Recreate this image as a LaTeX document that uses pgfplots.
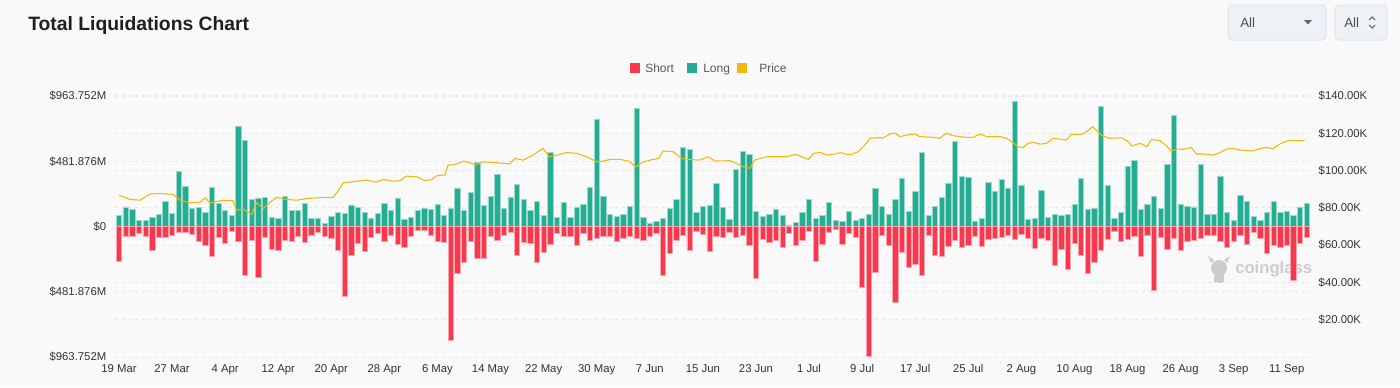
\documentclass[border=0pt]{standalone}
\usepackage{fontspec}
\setmainfont{Liberation Sans}
\usepackage{pgfplots}
\usepackage{pgfplotstable}
\pgfplotsset{compat=1.18}
\definecolor{bg}{HTML}{F9F9F9}
\definecolor{shortc}{HTML}{F6394E}
\definecolor{longc}{HTML}{24AD92}
\definecolor{pricec}{HTML}{F0B90B}
\definecolor{gridc}{HTML}{E6E6E6}
\definecolor{txt}{HTML}{333333}
\definecolor{ddfill}{HTML}{EEF2F6}
\definecolor{ddborder}{HTML}{DCE4EC}

\pgfplotstableread{
day long short
0 79 -258
1 144 -69
2 126 -74
3 47 -50
4 47 -72
5 67 -176
6 89 -77
7 183 -77
8 99 -64
9 404 -42
10 295 -42
11 134 -55
12 139 -112
13 104 -136
14 290 -218
15 171 -82
16 121 -124
17 79 -32
18 743 -109
19 634 -362
20 203 -99
21 211 -374
22 213 -79
23 69 -171
24 57 -178
25 223 -102
26 116 -109
27 121 -72
28 173 -119
29 60 -62
30 64 -45
31 22 -72
32 77 -84
33 102 -173
34 97 -518
35 159 -211
36 141 -126
37 102 -186
38 64 -82
39 94 -52
40 169 -107
41 116 -64
42 211 -131
43 55 -154
44 67 -69
45 119 -27
46 136 -27
47 124 -62
48 164 -112
49 84 -114
50 131 -837
51 285 -349
52 121 -268
53 253 -112
54 476 -235
55 154 -238
56 221 -72
57 382 -99
58 134 -62
59 218 -45
60 310 -216
61 201 -119
62 116 -126
63 188 -265
64 84 -188
65 548 -131
66 67 -52
67 176 -74
68 67 -74
69 144 -139
70 166 -52
71 290 -102
72 795 -84
73 223 -74
74 89 -74
75 74 -107
76 89 -89
77 146 -69
78 875 -89
79 69 -104
80 27 -69
81 40 -52
82 62 -357
83 136 -201
84 198 -99
85 582 -62
86 567 -173
87 107 -35
88 151 -57
89 156 -186
90 317 -69
91 141 -79
92 50 -40
93 421 -77
94 557 -67
95 535 -136
96 114 -382
97 72 -97
98 92 -114
99 126 -99
100 79 -154
101 12 -52
102 30 -139
103 102 -104
104 203 -37
105 60 -260
106 84 -129
107 176 -40
108 45 -22
109 37 -134
110 114 -47
111 45 -79
112 60 -451
113 92 -960
114 282 -337
115 146 -62
116 92 -136
117 203 -560
118 359 -188
119 109 -300
120 260 -278
121 545 -359
122 84 -62
123 149 -211
124 213 -218
125 322 -149
126 629 -104
127 369 -156
128 364 -136
129 42 -74
130 57 -144
131 325 -97
132 258 -89
133 349 -77
134 285 -64
135 922 -92
136 307 -57
137 50 -89
138 62 -164
139 265 -87
140 69 -99
141 89 -285
142 84 -166
143 89 -317
144 166 -126
145 357 -211
146 129 -344
147 136 -263
148 885 -176
149 302 -94
150 57 -37
151 104 -112
152 441 -94
153 486 -74
154 124 -218
155 161 -62
156 221 -468
157 136 -77
158 458 -169
159 820 -84
160 166 -178
161 151 -107
162 144 -102
163 458 -89
164 92 -62
165 92 -67
166 374 -107
167 107 -154
168 47 -112
169 228 -67
170 183 -129
171 72 -45
172 47 -89
173 107 -198
174 188 -136
175 107 -156
176 109 -136
177 84 -399
178 144 -126
179 171 -79
}\liq

\pgfplotstableread{
day price
0 86.8
1.65 84.5
3.2 84.1
4.67 87.4
6.18 87.7
8.19 87.2
9.2 84.1
10.7 82.7
12.2 82.9
13.0 85.4
13.7 82.7
15.7 84.1
17.2 83.8
17.7 78.8
18.7 79.3
20.0 76.6
20.7 82.7
21.8 79.7
22.8 83.2
23.8 85.6
25.3 84.5
26.8 84.1
28.3 85.0
30.8 85.6
32.3 85.6
33.1 89.5
33.8 93.5
35.3 94.0
37.3 94.9
38.8 93.8
39.8 95.2
41.3 94.3
42.3 94.5
43.3 97.0
44.9 96.7
46.1 94.5
47.1 95.2
47.9 97.2
49.1 97.6
49.6 102.9
50.9 103.5
51.9 105.1
53.2 103.8
53.7 102.9
54.9 104.7
56.9 104.2
58.9 103.5
59.7 106.5
60.9 105.6
62.4 108.3
63.9 111.9
64.9 107.4
66.5 108.7
67.5 109.7
69.0 109.2
70.5 107.4
72.0 104.7
73.0 105.1
74.0 106.0
75.5 106.0
76.8 105.1
77.9 102.0
79.0 104.7
80.5 106.0
81.3 106.5
82.0 110.5
83.5 110.1
84.8 106.5
86.0 106.0
87.5 105.6
88.8 107.4
89.8 105.1
92.1 105.3
93.1 103.8
94.1 102.0
95.1 101.2
95.8 105.6
96.6 106.5
97.6 107.4
100.6 107.4
101.9 108.7
102.9 107.4
103.9 106.0
104.7 109.2
105.7 109.7
106.7 108.3
107.7 108.7
108.7 109.6
109.7 108.7
110.4 108.7
111.4 110.1
112.4 113.7
113.2 117.3
114.2 117.6
115.2 117.6
116.4 120.0
117.0 120.0
117.7 118.2
118.7 119.1
120.0 119.6
120.7 118.2
122.7 117.8
123.7 117.3
124.7 120.0
125.7 118.7
127.7 117.8
128.7 117.8
129.8 119.6
130.8 118.2
132.8 118.2
133.8 117.3
134.8 114.9
135.5 112.8
136.3 112.4
137.0 114.6
137.8 115.1
138.8 114.2
139.8 114.6
140.8 117.3
141.8 116.9
142.8 116.4
143.5 119.4
145.1 119.4
145.8 120.8
146.7 123.5
147.3 121.7
148.1 118.7
149.3 117.3
151.1 117.6
152.1 115.5
152.6 113.2
153.9 114.6
154.9 112.8
155.6 116.7
156.9 116.0
157.9 113.2
158.6 110.5
159.4 111.5
160.4 111.4
161.6 112.4
162.4 108.9
163.4 108.9
164.9 108.3
165.9 109.6
166.9 111.5
167.9 111.9
168.9 111.0
169.9 110.8
170.9 110.5
171.9 111.7
172.9 112.4
173.9 111.7
175.1 114.6
176.2 116.0
176.9 116.2
178.7 116.0
}\price

\pgfplotsset{
  base/.style={
    at={(86.25pt,22.5pt)}, anchor=south west,
    scale only axis, width=896.25pt, height=195.75pt,
    xmin=-0.6, xmax=179.5,
    axis line style={draw=none},
    major tick length=0pt,
    tick style={draw=none},
    ticklabel style={font=\fontsize{8.5}{10}\selectfont, text=txt},
    /pgf/number format/assume math mode=true,
    grid style={gridc, line width=0.75pt, dash pattern=on 2.5pt off 2.5pt},
  }
}

\begin{document}
\begin{tikzpicture}[x=0.75pt,y=0.75pt]
\fill[bg] (0,0) rectangle (1400,387);
% title
\node[anchor=base west, inner sep=0pt, font=\bfseries\fontsize{14.5}{16}\selectfont, text=black!88] at (28,357) {Total Liquidations Chart};
% dropdowns
\draw[fill=ddfill, draw=ddborder, line width=0.75pt, rounded corners=3pt] (1228,347) rectangle (1326,382);
\node[anchor=west, inner sep=0pt, font=\fontsize{10}{12}\selectfont, text=black!70] at (1240,364.5) {All};
\fill[black!60] (1304,367) -- (1312,367) -- (1308,362.5) -- cycle;
\draw[fill=ddfill, draw=ddborder, line width=0.75pt, rounded corners=3pt] (1335,347) rectangle (1387,382);
\node[anchor=west, inner sep=0pt, font=\fontsize{10}{12}\selectfont, text=black!70] at (1344,364.5) {All};
\draw[black!60, line width=0.8pt] (1369,367) -- (1372,370) -- (1375,367);
\draw[black!60, line width=0.8pt] (1369,362) -- (1372,359) -- (1375,362);
% legend
\fill[shortc] (630,314) rectangle (640,324);
\node[anchor=base west, inner sep=0pt, font=\fontsize{9}{11}\selectfont, text=black!65] at (645,314.8) {Short};
\fill[longc] (687,314) rectangle (697,324);
\node[anchor=base west, inner sep=0pt, font=\fontsize{9}{11}\selectfont, text=black!65] at (703,314.8) {Long};
\fill[pricec] (737,314) rectangle (747,324);
\node[anchor=base west, inner sep=0pt, font=\fontsize{9}{11}\selectfont, text=black!65] at (759,314.8) {Price};

% watermark (behind the bars)
\fill[black!20] (1219,119) circle (8);
\fill[black!20] (1214,104) rectangle (1224,112);
\fill[black!20] (1211,124) -- (1208,131) -- (1214,127) -- cycle;
\fill[black!20] (1227,124) -- (1230,131) -- (1224,127) -- cycle;
\node[anchor=west, inner sep=0pt, font=\bfseries\fontsize{12.5}{14}\selectfont, text=black!20] at (1235,118) {coinglass};

% right axis grid and labels
\begin{axis}[base,
  ymin=0, ymax=140,
  axis y line*=right, axis x line*=bottom,
  xtick=\empty,
  ytick={20,40,60,80,100,120,140},
  yticklabels={\$20.00K,\$40.00K,\$60.00K,\$80.00K,\$100.00K,\$120.00K,\$140.00K},
  yticklabel style={anchor=west, xshift=3pt},
  ymajorgrids,
]
\end{axis}

% bars
\begin{axis}[base,
  ymin=-963.752, ymax=963.752,
  axis y line*=left, axis x line*=bottom,
  ytick={-963.752,-481.876,0,481.876,963.752},
  yticklabels={\$963.752M,\$481.876M,\$0,\$481.876M,\$963.752M},
  yticklabel style={anchor=east, xshift=-3pt},
  xtick={0,8,...,176},
  xticklabels={19 Mar,27 Mar,4 Apr,12 Apr,20 Apr,28 Apr,6 May,14 May,22 May,30 May,7 Jun,15 Jun,23 Jun,1 Jul,9 Jul,17 Jul,25 Jul,2 Aug,10 Aug,18 Aug,26 Aug,3 Sep,11 Sep},
  xticklabel style={anchor=north, yshift=-2pt},
  ymajorgrids,
  ybar, bar width=0.8, bar shift=0pt,
]
\addplot[ybar, bar width=0.8, bar shift=0pt, fill=longc, draw=longc!45!white, line width=0.45pt] table[x=day,y=long]{\liq};
\addplot[ybar, bar width=0.8, bar shift=0pt, fill=shortc, draw=shortc!45!white, line width=0.45pt] table[x=day,y=short]{\liq};
\end{axis}

% price line
\begin{axis}[base,
  ymin=0, ymax=140,
  axis y line=none, axis x line=none,
  xtick=\empty, ytick=\empty,
]
\addplot[pricec, line width=0.8pt, no marks] table[x=day,y=price]{\price};
\end{axis}
\end{tikzpicture}
\end{document}
